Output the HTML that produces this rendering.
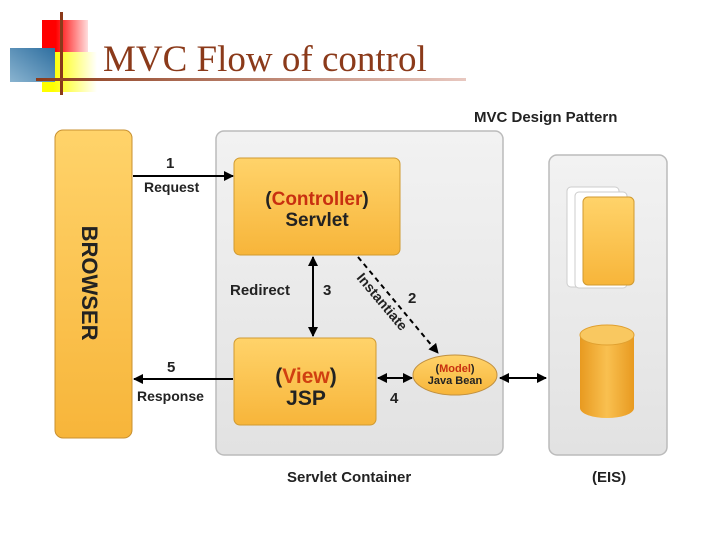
<!DOCTYPE html>
<html><head><meta charset="utf-8"><style>body{margin:0;background:#fff}svg{display:block}</style></head><body>
<svg width="720" height="540" viewBox="0 0 720 540" xmlns="http://www.w3.org/2000/svg" font-family="Liberation Sans, sans-serif">
<defs>
<linearGradient id="red" x1="0" x2="1"><stop offset="0.3" stop-color="#f00"/><stop offset="1" stop-color="#fdd"/></linearGradient>
<linearGradient id="yel" x1="0" x2="1"><stop offset="0.2" stop-color="#ff0"/><stop offset="1" stop-color="#fff"/></linearGradient>
<linearGradient id="blu" x1="1" y1="0" x2="0" y2="1"><stop offset="0" stop-color="#2f6fa0"/><stop offset="1" stop-color="#8ab4d0"/></linearGradient>
<linearGradient id="line" x1="0" x2="1"><stop offset="0" stop-color="#8b3a1a"/><stop offset="1" stop-color="#e8c8c0"/></linearGradient>
<linearGradient id="box" x1="0" y1="0" x2="0" y2="1"><stop offset="0" stop-color="#ffd36a"/><stop offset="1" stop-color="#f7b53a"/></linearGradient>
<linearGradient id="gray" x1="0" y1="0" x2="0" y2="1"><stop offset="0" stop-color="#f2f2f2"/><stop offset="1" stop-color="#e2e2e2"/></linearGradient>
<linearGradient id="cyl" x1="0" x2="1"><stop offset="0" stop-color="#e89a20"/><stop offset="0.5" stop-color="#f9c050"/><stop offset="1" stop-color="#e89a20"/></linearGradient>
<marker id="ah" markerWidth="10" markerHeight="10" refX="9" refY="5" orient="auto-start-reverse" markerUnits="userSpaceOnUse"><path d="M0,0 L10,5 L0,10 z" fill="#000"/></marker>
</defs>
<!-- logo -->
<rect x="42" y="20" width="46" height="34" fill="url(#red)"/>
<rect x="42" y="52" width="55" height="40" fill="url(#yel)"/>
<rect x="10" y="48" width="45" height="34" fill="url(#blu)"/>
<rect x="60" y="12" width="3" height="83" fill="#8b3a1a"/>
<rect x="36" y="78" width="430" height="3" fill="url(#line)"/>
<text x="103" y="71" font-family="Liberation Serif, serif" font-size="37" fill="#8b3a1a">MVC Flow of control</text>
<text x="474" y="122" font-size="15" font-weight="bold" fill="#222">MVC Design Pattern</text>
<!-- panels -->
<rect x="55" y="130" width="77" height="308" rx="8" fill="url(#box)" stroke="#c89030"/>
<text transform="translate(82,283) rotate(90)" text-anchor="middle" font-size="22" font-weight="bold" fill="#222">BROWSER</text>
<rect x="216" y="131" width="287" height="324" rx="8" fill="url(#gray)" stroke="#bbb" stroke-width="1.5"/>
<rect x="549" y="155" width="118" height="300" rx="8" fill="url(#gray)" stroke="#bbb" stroke-width="1.5"/>
<rect x="234" y="158" width="166" height="97" rx="6" fill="url(#box)" stroke="#d09a30"/>
<text x="317" y="205" text-anchor="middle" font-size="19" font-weight="bold"><tspan fill="#222">(</tspan><tspan fill="#c83010">Controller</tspan><tspan fill="#222">)</tspan></text>
<text x="317" y="226" text-anchor="middle" font-size="19" font-weight="bold" fill="#222">Servlet</text>
<rect x="234" y="338" width="142" height="87" rx="6" fill="url(#box)" stroke="#d09a30"/>
<text x="306" y="383" text-anchor="middle" font-size="21" font-weight="bold"><tspan fill="#222">(</tspan><tspan fill="#d04010">View</tspan><tspan fill="#222">)</tspan></text>
<text x="306" y="405" text-anchor="middle" font-size="21" font-weight="bold" fill="#222">JSP</text>
<ellipse cx="455" cy="375" rx="42" ry="20" fill="url(#box)" stroke="#c09040"/>
<text x="455" y="372" text-anchor="middle" font-size="11" font-weight="bold"><tspan fill="#222">(</tspan><tspan fill="#c83010">Model</tspan><tspan fill="#222">)</tspan></text>
<text x="455" y="384" text-anchor="middle" font-size="11" font-weight="bold" fill="#222">Java Bean</text>
<!-- EIS -->
<rect x="567" y="187" width="52" height="100" rx="4" fill="#fff" stroke="#ccc"/>
<rect x="575" y="192" width="52" height="96" rx="4" fill="#fff" stroke="#ccc"/>
<rect x="583" y="197" width="51" height="88" rx="5" fill="url(#box)" stroke="#d09a30"/>
<path d="M580,335 V408 A27,10 0 0 0 634,408 V335 Z" fill="url(#cyl)"/>
<ellipse cx="607" cy="335" rx="27" ry="10" fill="#f9c860" stroke="#e0a030"/>
<!-- arrows -->
<g stroke="#000" stroke-width="2" fill="none">
<line x1="133" y1="176" x2="233" y2="176" marker-end="url(#ah)"/>
<line x1="233" y1="379" x2="134" y2="379" marker-end="url(#ah)"/>
<line x1="313" y1="257" x2="313" y2="336" marker-start="url(#ah)" marker-end="url(#ah)"/>
<line x1="378" y1="378" x2="412" y2="378" marker-start="url(#ah)" marker-end="url(#ah)"/>
<line x1="500" y1="378" x2="546" y2="378" marker-start="url(#ah)" marker-end="url(#ah)"/>
<line x1="358" y1="257" x2="438" y2="353" stroke-dasharray="5,4" marker-end="url(#ah)"/>
</g>
<g font-size="15" font-weight="bold" fill="#222">
<text x="166" y="168">1</text>
<text x="144" y="192" font-size="14">Request</text>
<text x="167" y="372">5</text>
<text x="137" y="401" font-size="14">Response</text>
<text x="230" y="295">Redirect</text>
<text x="323" y="295">3</text>
<text x="408" y="303">2</text>
<text x="390" y="403">4</text>
<text transform="translate(356,278) rotate(50)" font-size="14">Instantiate</text>
<text x="287" y="482">Servlet Container</text>
<text x="592" y="482">(EIS)</text>
</g>
</svg>
</body></html>
